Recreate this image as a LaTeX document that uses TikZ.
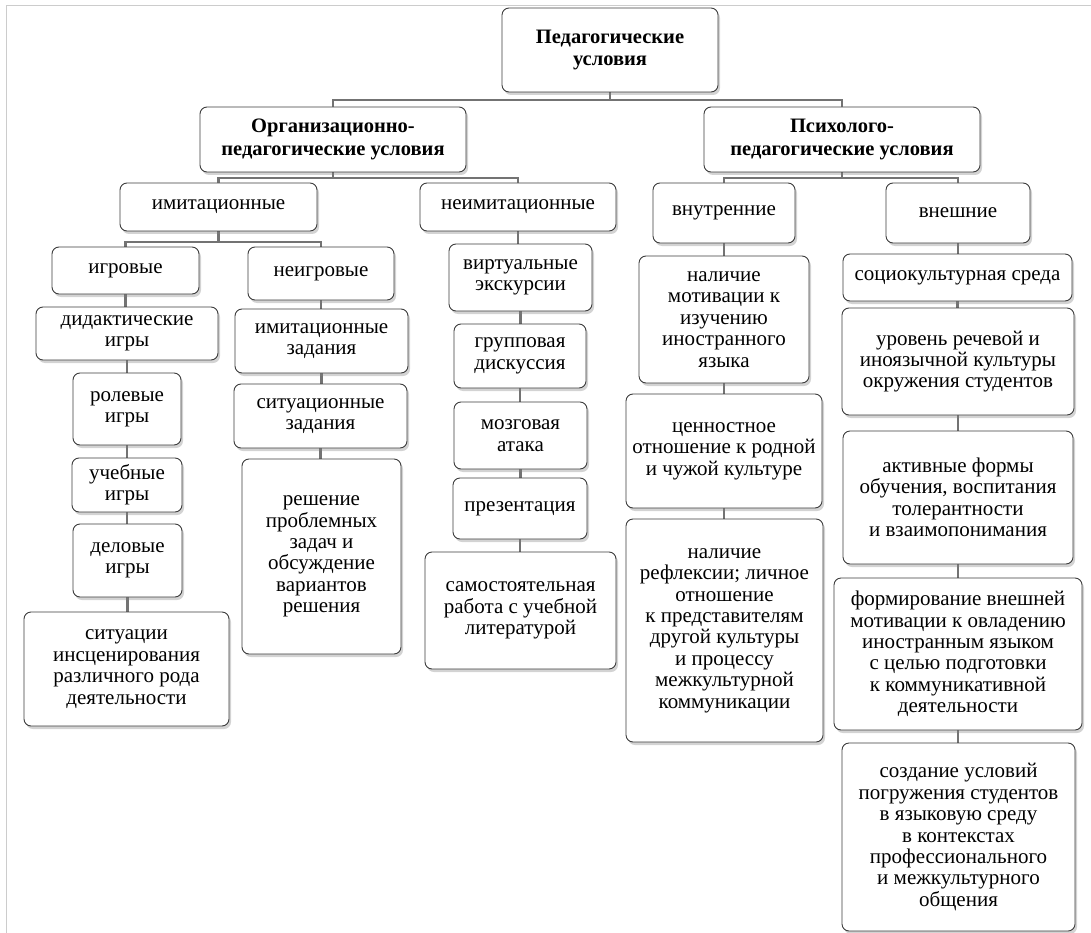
\documentclass[tikz,border=0pt]{standalone}
\usepackage{fontspec}
\setmainfont{Liberation Serif}
\usetikzlibrary{shadows,backgrounds}
\definecolor{conn}{RGB}{115,115,115}
\definecolor{edge}{RGB}{60,60,60}
\tikzset{
  box/.style={draw=edge, line width=0.9pt, rounded corners=7pt, fill=white, align=center,
    inner sep=1pt, font=\fontsize{21}{21.4}\selectfont,
    drop shadow={opacity=0.35, shadow xshift=2pt, shadow yshift=-3pt}},
  bbox/.style={box, font=\fontsize{20.5}{22.5}\selectfont\bfseries},
  conline/.style={draw=conn, line width=2.4pt}
}
\newcommand\bx[7][box]{%
  \node[#1, minimum width={(#5-#3)*1pt}, minimum height={(#6-#4)*1pt}] (#2) at ({(#3+#5)/2},{(#4+#6)/2}) {#7};}
\begin{document}
\begin{tikzpicture}[x=1pt,y=-1pt]
\useasboundingbox (0,0) rectangle (1091,933);
\draw[black!20, line width=1pt] (6,933) -- (6,6) -- (1091,6);
\bx[bbox]{top}{502}{8}{718}{92}{Педагогические\\условия}
\bx[bbox]{org}{200}{107}{466}{172}{Организационно-\\педагогические условия}
\bx[bbox]{psy}{704}{107}{980}{172}{Психолого-\\педагогические условия}
\bx{imit}{120}{183}{317}{231}{имитационные}
\bx{neimit}{420}{183}{616}{231}{неимитационные}
\bx{vnutr}{653}{183}{795}{243}{внутренние}
\bx{vnesh}{886}{183}{1030}{243}{внешние}
\bx{igr}{52}{247}{199}{294}{игровые}
\bx{neigr}{248}{247}{394}{300}{неигровые}
\bx{did}{36}{307}{218}{360}{дидактические\\игры}
\bx{rol}{73}{373}{181}{445}{ролевые\\игры}
\bx{ucheb}{72}{458}{182}{512}{учебные\\игры}
\bx{delov}{73}{524}{182}{597}{деловые\\игры}
\bx{sit}{24}{612}{229}{726}{ситуации\\инсценирования\\различного рода\\деятельности}
\bx{imz}{235}{309}{408}{373}{имитационные\\задания}
\bx{sitz}{234}{384}{407}{448}{ситуационные\\задания}
\bx{resh}{242}{459}{401}{654}{решение\\проблемных\\задач и\\обсуждение\\вариантов\\решения}
\bx{virt}{449}{244}{592}{311}{виртуальные\\экскурсии}
\bx{grup}{454}{324}{586}{388}{групповая\\дискуссия}
\bx{mozg}{454}{402}{587}{469}{мозговая\\атака}
\bx{prez}{453}{478}{587}{539}{презентация}
\bx{samo}{425}{552}{616}{669}{самостоятельная\\работа с учебной\\литературой}
\bx{nal}{639}{256}{809}{383}{наличие\\мотивации к\\изучению\\иностранного\\языка}
\bx{cen}{626}{394}{822}{508}{ценностное\\отношение к родной\\и чужой культуре}
\bx{refl}{626}{519}{823}{742}{наличие\\рефлексии; личное\\отношение\\к представителям\\другой культуры\\и процессу\\межкультурной\\коммуникации}
\bx{soc}{843}{254}{1072}{301}{социокультурная среда}
\bx{urov}{842}{308}{1074}{415}{уровень речевой и\\иноязычной культуры\\окружения студентов}
\bx{akt}{843}{431}{1073}{564}{активные формы\\обучения, воспитания\\толерантности\\и взаимопонимания}
\bx{form}{834}{578}{1082}{730}{формирование внешней\\мотивации к овладению\\иностранным языком\\с целью подготовки\\к коммуникативной\\деятельности}
\bx{sozd}{842}{743}{1075}{931}{создание условий\\погружения студентов\\в языковую среду\\в контекстах\\профессионального\\и межкультурного\\общения}
\coordinate (b1) at (0,100);
\coordinate (b2) at (0,178);
\coordinate (b3) at (0,242);
\begin{scope}[on background layer]
\draw[conline] (top.south) -- (top.south |- b1);
\draw[conline] (org.north) -- (org.north |- b1) -- (psy.north |- b1) -- (psy.north);
\draw[conline] (org.south) -- (org.south |- b2);
\draw[conline] (imit.north) -- (imit.north |- b2) -- (neimit.north |- b2) -- (neimit.north);
\draw[conline] (psy.south) -- (psy.south |- b2);
\draw[conline] (vnutr.north) -- (vnutr.north |- b2) -- (vnesh.north |- b2) -- (vnesh.north);
\draw[conline] (imit.south) -- (imit.south |- b3);
\draw[conline] (igr.north) -- (igr.north |- b3) -- (neigr.north |- b3) -- (neigr.north);
\foreach \a/\b in {igr/did, did/rol, rol/ucheb, ucheb/delov, delov/sit,
  neigr/imz, imz/sitz, sitz/resh,
  neimit/virt, virt/grup, grup/mozg, mozg/prez, prez/samo,
  vnutr/nal, nal/cen, cen/refl,
  vnesh/soc, soc/urov, urov/akt, akt/form, form/sozd}
  \draw[conline] (\a.south) -- (\a.south |- \b.north);
\end{scope}
\end{tikzpicture}
\end{document}
